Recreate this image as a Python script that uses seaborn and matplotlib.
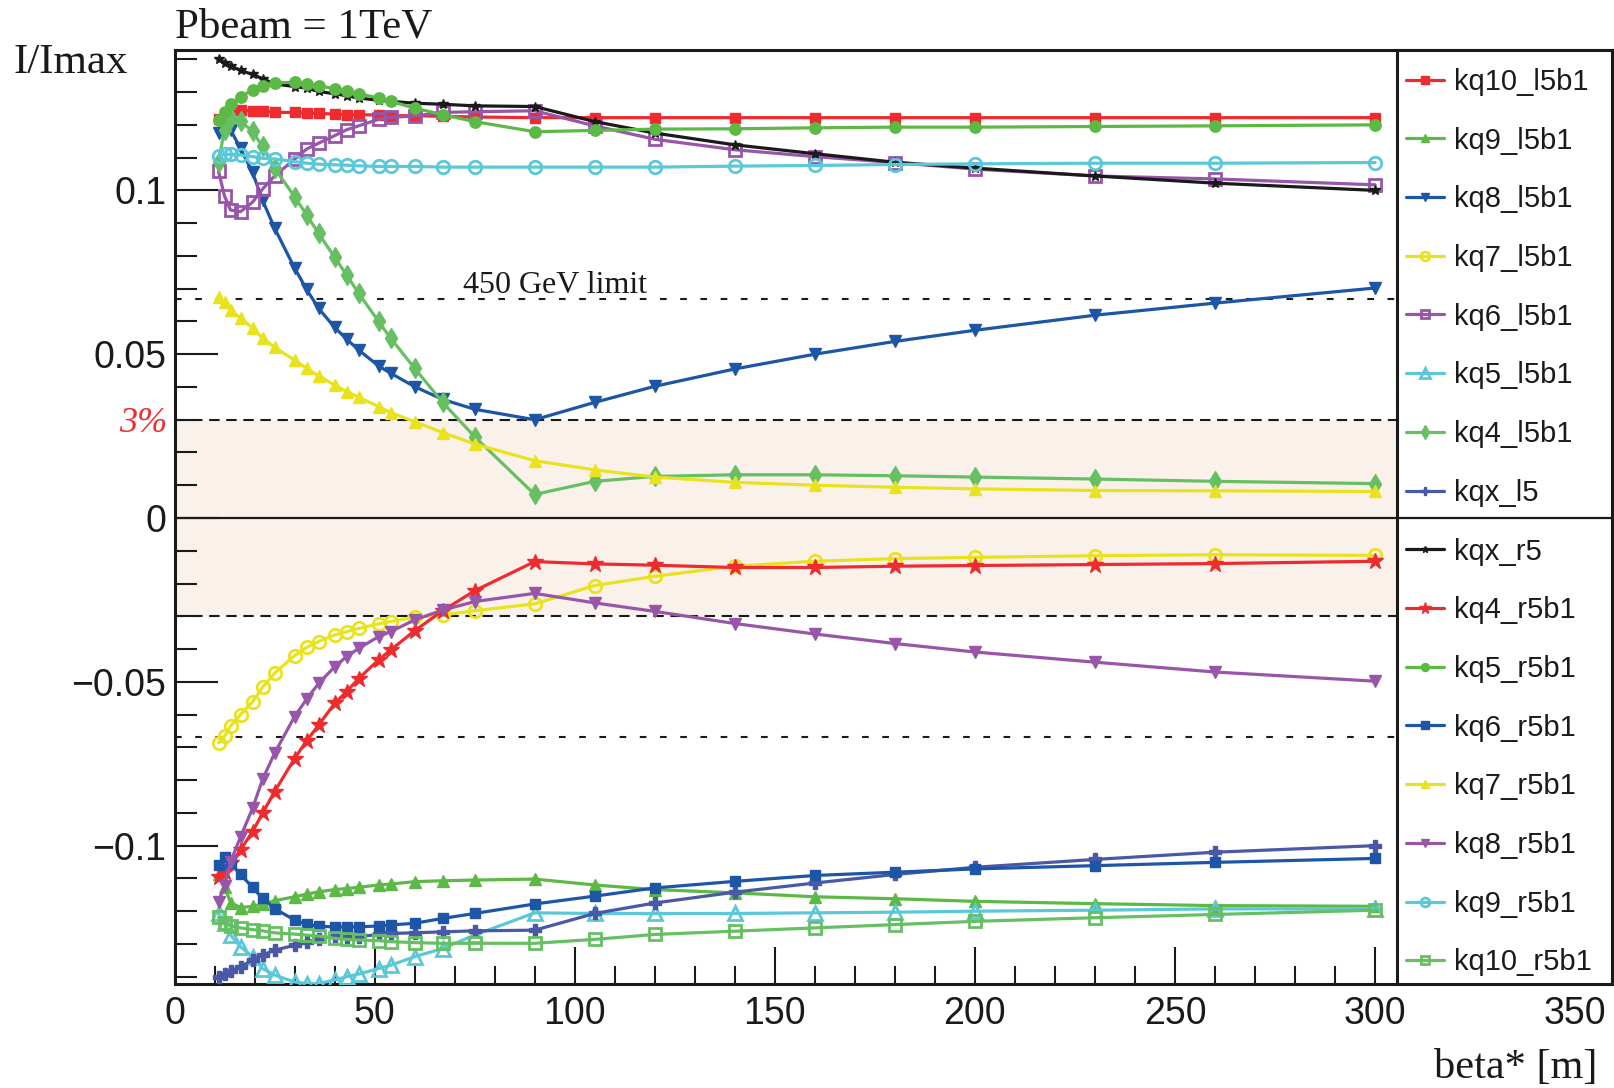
import matplotlib
matplotlib.use("Agg")
import matplotlib.pyplot as plt
import seaborn as sns
from matplotlib.patches import Rectangle

# beta* scan points [m]
beta_star = [11, 12.5, 14, 16.5, 19.5, 22, 25, 30, 33, 36, 40, 43, 46, 51, 54,
             60, 67, 75, 90, 105, 120, 140, 160, 180, 200, 230, 260, 300]

# normalised magnet currents I/Imax per circuit
kq10_l5b1 = [0.1219, 0.1234, 0.1243, 0.1244, 0.1243, 0.1241, 0.1238, 0.1238, 0.1236, 0.1235,
             0.1233, 0.1231, 0.1231, 0.1230, 0.1228, 0.1228, 0.1226, 0.1224, 0.1222, 0.1222,
             0.1222, 0.1222, 0.1222, 0.1222, 0.1222, 0.1222, 0.1222, 0.1222]
kq9_l5b1 = [-0.1085, -0.1125, -0.1174, -0.1189, -0.1185, -0.1178, -0.1168, -0.1156, -0.1148, -0.1141,
            -0.1134, -0.1131, -0.1127, -0.1120, -0.1117, -0.1110, -0.1107, -0.1105, -0.1102, -0.1120,
            -0.1134, -0.1144, -0.1156, -0.1162, -0.1170, -0.1177, -0.1183, -0.1185]
kq8_l5b1 = [0.1175, 0.1200, 0.1185, 0.1128, 0.1055, 0.0970, 0.0885, 0.0763, 0.0698, 0.0640,
            0.0582, 0.0546, 0.0513, 0.0464, 0.0442, 0.0401, 0.0362, 0.0332, 0.0300, 0.0353,
            0.0402, 0.0455, 0.0500, 0.0539, 0.0573, 0.0619, 0.0656, 0.0702]
kq7_l5b1 = [-0.0686, -0.0666, -0.0635, -0.0600, -0.0561, -0.0517, -0.0474, -0.0420, -0.0395, -0.0377,
            -0.0357, -0.0347, -0.0337, -0.0323, -0.0316, -0.0303, -0.0296, -0.0283, -0.0262, -0.0206,
            -0.0178, -0.0147, -0.0132, -0.0124, -0.0120, -0.0115, -0.0112, -0.0114]
kq6_l5b1 = [0.1058, 0.0983, 0.0940, 0.0935, 0.0964, 0.1004, 0.1044, 0.1095, 0.1126, 0.1144,
            0.1167, 0.1185, 0.1197, 0.1217, 0.1223, 0.1227, 0.1238, 0.1240, 0.1243, 0.1197,
            0.1156, 0.1124, 0.1103, 0.1085, 0.1065, 0.1044, 0.1035, 0.1017]
kq5_l5b1 = [-0.1207, -0.1237, -0.1273, -0.1309, -0.1339, -0.1375, -0.1395, -0.1416, -0.1421, -0.1421,
            -0.1410, -0.1400, -0.1392, -0.1375, -0.1365, -0.1339, -0.1314, -0.1273, -0.1205, -0.1207,
            -0.1207, -0.1207, -0.1205, -0.1203, -0.1200, -0.1197, -0.1193, -0.1193]
kq4_l5b1 = [0.1088, 0.1185, 0.1221, 0.1211, 0.1180, 0.1134, 0.1068, 0.0981, 0.0925, 0.0869,
            0.0796, 0.0742, 0.0686, 0.0600, 0.0549, 0.0457, 0.0353, 0.0248, 0.0072, 0.0112,
            0.0127, 0.0132, 0.0132, 0.0129, 0.0125, 0.0119, 0.0112, 0.0105]
kqx_l5 = [-0.1400, -0.1392, -0.1382, -0.1370, -0.1349, -0.1334, -0.1319, -0.1304, -0.1293, -0.1286,
          -0.1275, -0.1278, -0.1278, -0.1271, -0.1268, -0.1266, -0.1263, -0.1260, -0.1258, -0.1207,
          -0.1175, -0.1142, -0.1114, -0.1088, -0.1066, -0.1042, -0.1020, -0.1000]
kqx_r5 = [0.1401, 0.1390, 0.1380, 0.1366, 0.1354, 0.1341, 0.1325, 0.1317, 0.1312, 0.1302,
          0.1295, 0.1289, 0.1282, 0.1275, 0.1272, 0.1266, 0.1263, 0.1258, 0.1256, 0.1210,
          0.1175, 0.1139, 0.1112, 0.1086, 0.1068, 0.1044, 0.1022, 0.1000]
kq4_r5b1 = [-0.1095, -0.1080, -0.1054, -0.1013, -0.0957, -0.0901, -0.0835, -0.0734, -0.0680, -0.0632,
            -0.0566, -0.0530, -0.0490, -0.0433, -0.0403, -0.0344, -0.0283, -0.0222, -0.0133, -0.0140,
            -0.0144, -0.0151, -0.0151, -0.0147, -0.0145, -0.0142, -0.0139, -0.0132]
kq5_r5b1 = [0.1215, 0.1238, 0.1264, 0.1285, 0.1307, 0.1320, 0.1328, 0.1330, 0.1326, 0.1320,
            0.1310, 0.1302, 0.1295, 0.1282, 0.1272, 0.1251, 0.1231, 0.1210, 0.1179, 0.1183,
            0.1187, 0.1188, 0.1191, 0.1193, 0.1193, 0.1195, 0.1197, 0.1200]
kq6_r5b1 = [-0.1059, -0.1036, -0.1054, -0.1088, -0.1127, -0.1161, -0.1192, -0.1227, -0.1240, -0.1246,
            -0.1248, -0.1248, -0.1248, -0.1245, -0.1242, -0.1237, -0.1222, -0.1207, -0.1178, -0.1154,
            -0.1129, -0.1109, -0.1091, -0.1081, -0.1071, -0.1061, -0.1051, -0.1039]
kq7_r5b1 = [0.0674, 0.0658, 0.0635, 0.0610, 0.0580, 0.0549, 0.0521, 0.0482, 0.0457, 0.0434,
            0.0406, 0.0386, 0.0369, 0.0340, 0.0322, 0.0294, 0.0261, 0.0226, 0.0175, 0.0147,
            0.0125, 0.0109, 0.0100, 0.0094, 0.0089, 0.0084, 0.0083, 0.0081]
kq8_r5b1 = [-0.1171, -0.1123, -0.1049, -0.0973, -0.0886, -0.0798, -0.0718, -0.0606, -0.0553, -0.0505,
            -0.0454, -0.0423, -0.0398, -0.0362, -0.0347, -0.0311, -0.0281, -0.0255, -0.0230, -0.0259,
            -0.0285, -0.0322, -0.0354, -0.0383, -0.0409, -0.0440, -0.0470, -0.0498]
kq9_r5b1 = [0.1105, 0.1110, 0.1110, 0.1108, 0.1103, 0.1098, 0.1096, 0.1088, 0.1083, 0.1080,
            0.1078, 0.1077, 0.1075, 0.1073, 0.1073, 0.1073, 0.1071, 0.1071, 0.1071, 0.1071,
            0.1071, 0.1074, 0.1076, 0.1079, 0.1081, 0.1083, 0.1083, 0.1085]
kq10_r5b1 = [-0.1219, -0.1235, -0.1245, -0.1251, -0.1256, -0.1260, -0.1266, -0.1270, -0.1273, -0.1276,
             -0.1283, -0.1286, -0.1288, -0.1290, -0.1293, -0.1296, -0.1298, -0.1298, -0.1298, -0.1286,
             -0.1271, -0.1261, -0.1251, -0.1241, -0.1231, -0.1220, -0.1210, -0.1197]

circuit_names = ["kq10_l5b1", "kq9_l5b1", "kq8_l5b1", "kq7_l5b1", "kq6_l5b1", "kq5_l5b1",
                 "kq4_l5b1", "kqx_l5", "kqx_r5", "kq4_r5b1", "kq5_r5b1", "kq6_r5b1",
                 "kq7_r5b1", "kq8_r5b1", "kq9_r5b1", "kq10_r5b1"]
circuit_values = [kq10_l5b1, kq9_l5b1, kq8_l5b1, kq7_l5b1, kq6_l5b1, kq5_l5b1,
                  kq4_l5b1, kqx_l5, kqx_r5, kq4_r5b1, kq5_r5b1, kq6_r5b1,
                  kq7_r5b1, kq8_r5b1, kq9_r5b1, kq10_r5b1]

x_ticks = [0, 50, 100, 150, 200, 250, 300, 350]
x_tick_labels = ["0", "50", "100", "150", "200", "250", "300", "350"]
y_ticks = [-0.1, -0.05, 0.0, 0.05, 0.1]
y_tick_labels = ["\u22120.1", "\u22120.05", "0", "0.05", "0.1"]

RED = "#ee2b2e"
GREEN = "#5cb946"
GREEN2 = "#66c063"
BLUE = "#1d55a7"
YELLOW = "#e9e31f"
PURPLE = "#9756a9"
CYAN = "#5ac8d9"
NAVY = "#4a58a8"
BLACK = "#1a1a1a"

# (color, marker, size, filled)
styles = {
    "kq10_l5b1": (RED, "s", 7.5, True),
    "kq9_l5b1": (GREEN, "^", 8.0, True),
    "kq8_l5b1": (BLUE, "v", 8.0, True),
    "kq7_l5b1": (YELLOW, "o", 9.0, False),
    "kq6_l5b1": (PURPLE, "s", 9.0, False),
    "kq5_l5b1": (CYAN, "^", 9.5, False),
    "kq4_l5b1": (GREEN2, "d", 10.0, True),
    "kqx_l5": (NAVY, "P", 9.0, True),
    "kqx_r5": (BLACK, "*", 7.0, True),
    "kq4_r5b1": (RED, "*", 12.0, True),
    "kq5_r5b1": (GREEN, "o", 8.2, True),
    "kq6_r5b1": (BLUE, "s", 7.5, True),
    "kq7_r5b1": (YELLOW, "^", 8.0, True),
    "kq8_r5b1": (PURPLE, "v", 8.0, True),
    "kq9_r5b1": (CYAN, "o", 9.0, False),
    "kq10_r5b1": (GREEN2, "s", 8.5, False),
}

sns.set_theme(style="ticks")
plt.rcParams["font.family"] = ["Liberation Sans", "DejaVu Sans"]
plt.rcParams["axes.unicode_minus"] = True

fig = plt.figure(figsize=(16.15, 10.88), dpi=100)
ax = fig.add_axes([0.10805, 0.09596, 0.89009, 0.85854])

XMAX = 359.2
YMIN, YMAX = -0.1421, 0.1430
LEG_X0 = 305.4 / XMAX

# allowed band and limit lines
ax.axhspan(-0.03, 0.03, color="#fbf1eb", zorder=0, lw=0)
for yv in (0.03, -0.03):
    ax.axhline(yv, color=BLACK, lw=1.5, ls=(0, (5.0, 3.2)), zorder=1.5)
for yv in (0.0667, -0.0667):
    ax.axhline(yv, color=BLACK, lw=1.5, ls=(0, (3.2, 6.5)), zorder=1.5)

handles = []
for name, vals in zip(circuit_names, circuit_values):
    col, mk, ms, filled = styles[name]
    sns.lineplot(x=beta_star, y=vals, ax=ax, color=col, lw=2.3, marker=mk,
                 markersize=ms, markeredgecolor=col,
                 markerfacecolor=col if filled else "none",
                 markeredgewidth=1.0 if filled else 2.0,
                 label=name, legend=False, zorder=3, sort=False)
    handles.append(ax.lines[-1])

ax.set_xlim(0, XMAX)
ax.set_ylim(YMIN, YMAX)

# legend panel on the right side of the frame
ax.add_patch(Rectangle((LEG_X0, 0), 1 - LEG_X0, 1, transform=ax.transAxes,
                       facecolor="white", edgecolor=BLACK, lw=2.2, zorder=4, clip_on=False))
ax.axhline(0.0, color=BLACK, lw=1.6, zorder=4.5)

leg = ax.legend(handles, circuit_names, loc="center left",
                bbox_to_anchor=(LEG_X0 + 0.0065, 0.494), bbox_transform=ax.transAxes,
                frameon=False, fontsize=21, labelspacing=1.053, handlelength=1.3,
                handletextpad=0.35, borderpad=0.0, borderaxespad=0.0, markerscale=0.7)
leg.set_zorder(6)
for txt in leg.get_texts():
    txt.set_color(BLACK)

# ticks
ax.set_xticks(x_ticks)
ax.set_xticklabels(x_tick_labels)
ax.set_xticks([v for v in range(10, 301, 10) if v % 50], minor=True)
ax.set_yticks(y_ticks)
ax.set_yticklabels(y_tick_labels)
ax.set_yticks([round(v * 0.01, 2) for v in range(-14, 15) if v % 5], minor=True)
ax.tick_params(axis="x", which="major", direction="in", length=27, width=1.5,
               labelsize=27, pad=9, colors=BLACK, top=False)
ax.tick_params(axis="x", which="minor", direction="in", length=13, width=1.5,
               colors=BLACK, top=False)
ax.tick_params(axis="y", which="major", direction="in", length=31, width=1.5,
               labelsize=27, pad=6, colors=BLACK, right=False)
ax.tick_params(axis="y", which="minor", direction="in", length=16, width=1.5,
               colors=BLACK, right=False)
for tick, v in zip(ax.xaxis.get_major_ticks(), x_ticks):
    if v > 305:
        tick.tick1line.set_visible(False)

for side in ("left", "bottom", "top", "right"):
    ax.spines[side].set_color(BLACK)
    ax.spines[side].set_linewidth(2.2)
ax.set_xlabel("")
ax.set_ylabel("")

serif = ["Liberation Serif", "DejaVu Serif"]
fig.text(175 / 1615, 1 - 37 / 1088, "Pbeam = 1TeV", family=serif, fontsize=31,
         ha="left", va="baseline", color=BLACK)
fig.text(14 / 1615, 1 - 73 / 1088, "I/Imax", family=serif, fontsize=31,
         ha="left", va="baseline", color=BLACK)
fig.text(1597 / 1615, 1 - 1078 / 1088, "beta* [m]", family=serif, fontsize=30.5,
         ha="right", va="baseline", color=BLACK)
ax.text(72.1, 0.0687, "450 GeV limit", family=serif, fontsize=23,
        ha="left", va="baseline", color=BLACK, zorder=3.5)
ax.text(-1.9, 0.0262, "3%", family=serif, style="italic", fontsize=26,
        ha="right", va="baseline", color="#ee2b2e", clip_on=False)

fig.savefig("out.png", dpi=100)
